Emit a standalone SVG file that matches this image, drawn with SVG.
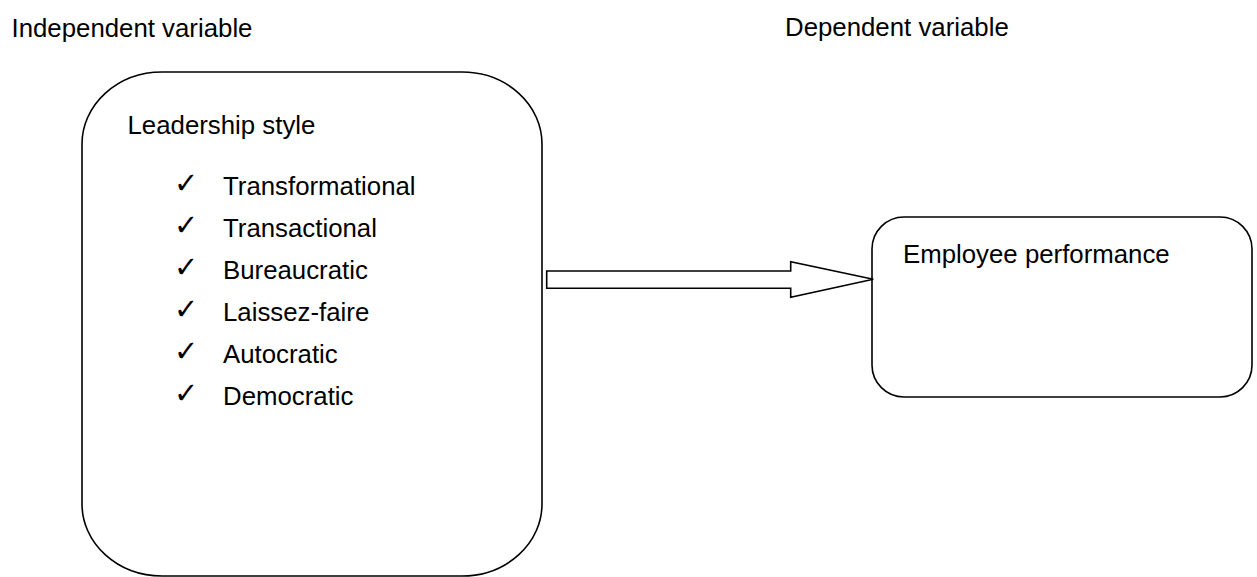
<svg xmlns="http://www.w3.org/2000/svg" width="1257" height="577" viewBox="0 0 1257 577">
<style>
.t{font-family:"Liberation Sans",Arial,sans-serif;font-size:25.8px;fill:#000}
.ck{font-family:"DejaVu Sans",sans-serif;font-size:29px;font-weight:bold;fill:#000}
.box{fill:#fff;stroke:#000;stroke-width:1.6}
</style>
<rect width="1257" height="577" fill="#fff"/>
<g id="labels">
<text class="t" x="11.5" y="36.5">Independent variable</text>
<text class="t" x="785" y="36">Dependent variable</text>
</g>
<g id="node-leadership">
<rect class="box" x="82" y="72" width="460" height="504" rx="80" ry="72"/>
<text class="t" x="127.5" y="133.5">Leadership style</text>
<g class="ck">
<text x="174" y="193">✓</text>
<text x="174" y="235">✓</text>
<text x="174" y="277">✓</text>
<text x="174" y="319">✓</text>
<text x="174" y="361">✓</text>
<text x="174" y="403">✓</text>
</g>
<text class="t" x="223" y="195">Transformational</text>
<text class="t" x="223" y="237">Transactional</text>
<text class="t" x="223" y="279">Bureaucratic</text>
<text class="t" x="223" y="321">Laissez-faire</text>
<text class="t" x="223" y="363">Autocratic</text>
<text class="t" x="223" y="405">Democratic</text>
</g>
<g id="node-performance">
<rect class="box" x="872" y="217" width="380" height="180" rx="32" ry="32"/>
<text class="t" x="903" y="263">Employee performance</text>
</g>
<g id="connectors">
<path class="box" d="M546.7 271 H790.7 V261.7 L873.3 279.3 L790.7 297.3 V288.3 H546.7 Z"/>
</g>
</svg>
